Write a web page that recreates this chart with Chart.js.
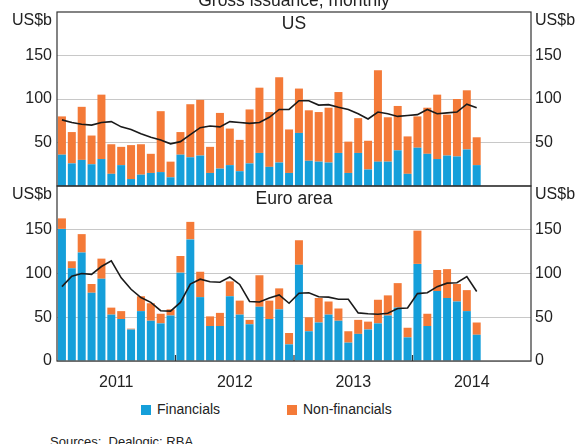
<!DOCTYPE html>
<html>
<head>
<meta charset="utf-8">
<script src="https://cdn.jsdelivr.net/npm/chart.js@4.4.0/dist/chart.umd.min.js"></script>
<style>
  body { margin: 0; background: #fff; font-family: Arial, "Liberation Sans", sans-serif; color: #222; }
  #wrap { position: relative; width: 580px; height: 444px; overflow: hidden; }
  .panel { position: absolute; left: 0; width: 580px; }
  #usBox { top: 0; height: 187px; }
  #euBox { top: 185px; height: 206px; }
  .key { position: absolute; top: 401px; font-size: 14px; line-height: 16px; white-space: nowrap; }
  .key span { display: inline-block; width: 10px; height: 10px; margin-right: 6px; vertical-align: -1px; }
  #sources { position: absolute; left: 50px; top: 434px; font-size: 13px; line-height: 16px; }
</style>
</head>
<body>
<div id="wrap">
  <div class="panel" id="usBox"><canvas id="usChart"></canvas></div>
  <div class="panel" id="euBox"><canvas id="euChart"></canvas></div>
  <div class="key" style="left:141px"><span style="background:#159fda"></span>Financials</div>
  <div class="key" style="left:287px"><span style="background:#f47a38"></span>Non-financials</div>
  <div id="sources">Sources:&nbsp;&nbsp;Dealogic; RBA</div>
</div>
<script>
const months = [
  'Jan 2011', 'Feb 2011', 'Mar 2011', 'Apr 2011', 'May 2011', 'Jun 2011', 'Jul 2011', 'Aug 2011', 'Sep 2011', 'Oct 2011', 'Nov 2011', 'Dec 2011',
  'Jan 2012', 'Feb 2012', 'Mar 2012', 'Apr 2012', 'May 2012', 'Jun 2012', 'Jul 2012', 'Aug 2012', 'Sep 2012', 'Oct 2012', 'Nov 2012', 'Dec 2012',
  'Jan 2013', 'Feb 2013', 'Mar 2013', 'Apr 2013', 'May 2013', 'Jun 2013', 'Jul 2013', 'Aug 2013', 'Sep 2013', 'Oct 2013', 'Nov 2013', 'Dec 2013',
  'Jan 2014', 'Feb 2014', 'Mar 2014', 'Apr 2014', 'May 2014', 'Jun 2014', 'Jul 2014'
];
const years = ['2011', '2012', '2013', '2014'];
const yTicks = [0, 50, 100, 150, 200];

// US$b, monthly
const usFinancials = [36, 26, 30, 25, 31, 14, 24, 8, 13, 15, 16, 10, 36, 33, 35, 15, 20, 24, 17, 26, 38, 22, 27, 15,
  61, 29, 28, 27, 38, 15, 38, 19, 28, 28, 41, 14, 44, 37, 31, 35, 34, 42, 24];
const usNonFinancials = [44, 36, 61, 33, 74, 34, 21, 39, 35, 22, 70, 18, 26, 61, 64, 30, 64, 42, 36, 62, 75, 63, 98, 50,
  51, 58, 57, 63, 70, 36, 40, 33, 105, 51, 51, 43, 36, 53, 74, 47, 66, 68, 32];
const usAverage = [76, 73, 71, 70, 73, 74, 68, 65, 60, 56, 53, 48.5, 51, 59, 67, 69, 68, 74, 73, 72, 73, 79, 88, 88,
  98, 98, 93, 93.5, 90.5, 88, 83, 77, 85, 83, 80, 81, 82, 88, 83, 84, 85, 94, 90];

const euFinancials = [151, 106, 124, 78, 94, 53, 48, 36, 57, 46, 43, 52, 101, 139, 73, 40, 40, 74, 53, 42, 62, 48, 59, 19,
  110, 34, 44, 53, 46, 21, 31, 36, 43, 52, 61, 27, 111, 40, 80, 72, 68, 57, 30];
const euNonFinancials = [12, 8, 21, 10, 23, 8, 9, 1, 17, 20, 11, 7, 19, 20, 29, 11, 15, 17, 16, 5, 36, 21, 24, 13,
  28, 16, 28, 15, 14, 13, 16, 9, 27, 23, 28, 11, 38, 14, 24, 33, 20, 24, 14];
const euAverage = [85, 97, 100, 99, 108, 114.5, 95, 82, 72.5, 67, 57.5, 57, 67, 88, 93.5, 90.5, 90, 96, 87.5, 68, 67.5, 72, 75.5, 66,
  77.5, 78, 73.5, 73, 70.5, 70.5, 55, 54, 53.5, 54.5, 60, 60.5, 77, 78, 85, 89, 89.5, 96.5, 79.5];

const fontFamily = 'Arial, "Liberation Sans", sans-serif';
Chart.defaults.font.family = fontFamily;
Chart.defaults.color = '#222';

const blue = '#159fda';
const orange = '#f47a38';

const points = arr => arr.map((v, i) => ({ x: i, y: v }));

// frame, inward year ticks, unit labels and panel titles
const panelFrame = {
  id: 'panelFrame',
  afterDatasetsDraw(chart, args, opts) {
    const { ctx, chartArea: a, scales } = chart;
    ctx.save();
    ctx.strokeStyle = '#333';
    ctx.lineWidth = 1.2;
    ctx.strokeRect(a.left, a.top, a.right - a.left, a.bottom - a.top);
    if (opts.yearTicks) {
      years.forEach((y, i) => {
        if (i === 0) return;
        const x = scales.x.getPixelForValue(i * 12 - 0.5);
        ctx.beginPath();
        ctx.moveTo(x, a.bottom);
        ctx.lineTo(x, a.bottom - 6);
        ctx.stroke();
      });
    }
    ctx.fillStyle = '#222';
    ctx.font = '16px ' + fontFamily;
    ctx.textBaseline = 'middle';
    ctx.textAlign = 'right';
    ctx.fillText('US$b', a.left - 5, a.top + 9);
    ctx.textAlign = 'left';
    ctx.fillText('US$b', a.right + 4, a.top + 9);
    ctx.font = '17.5px ' + fontFamily;
    ctx.textAlign = 'center';
    ctx.textBaseline = 'alphabetic';
    const cx = (a.left + a.right) / 2;
    ctx.fillText(opts.title, cx, a.top + opts.titleOffset);
    if (opts.heading) ctx.fillText(opts.heading, cx, a.top - 6.5);
    ctx.restore();
  }
};

function makeChart(id, fin, nonFin, avg, cfg) {
  const ctx = document.getElementById(id).getContext('2d');
  const tickLabel = v => (v === 200 || (v === 0 && !cfg.showZero)) ? null : v;
  const noPad = s => { s.paddingTop = 0; s.paddingBottom = 0; };
  return new Chart(ctx, {
    type: 'bar',
    data: {
      datasets: [
        { type: 'line', label: 'Rolling six-month average', data: points(avg), borderColor: '#1a1a1a', borderWidth: 1.6,
          pointRadius: 0, tension: 0, stack: 'avg', order: 0 },
        { label: 'Financials', data: points(fin), backgroundColor: blue, stack: 'bars', order: 1,
          barPercentage: 0.9, categoryPercentage: 0.9 },
        { label: 'Non-financials', data: points(nonFin), backgroundColor: orange, stack: 'bars', order: 1,
          barPercentage: 0.9, categoryPercentage: 0.9 }
      ]
    },
    options: {
      responsive: true,
      maintainAspectRatio: false,
      animation: false,
      layout: { padding: cfg.padding },
      plugins: {
        legend: { display: false },
        tooltip: { enabled: false },
        panelFrame: cfg.frame
      },
      scales: {
        x: {
          type: 'linear',
          min: -0.5,
          max: 47.5,
          offset: false,
          stacked: true,
          display: cfg.showX,
          grid: { display: false, drawTicks: false, offset: false },
          border: { display: false },
          afterBuildTicks: s => { s.ticks = years.map((y, i) => ({ value: i * 12 + 5.5 })); },
          ticks: {
            autoSkip: false,
            maxRotation: 0,
            padding: 12,
            font: { size: 16 },
            callback: v => years[Math.round((v - 5.5) / 12)]
          },
          afterFit: s => { s.height = cfg.showX ? 30 : 0; s.paddingLeft = 0; s.paddingRight = 0; }
        },
        y: {
          position: 'left',
          min: 0,
          max: 200,
          stacked: true,
          grid: { color: '#c8c8c8', drawTicks: false },
          border: { display: false },
          afterBuildTicks: s => { s.ticks = yTicks.map(v => ({ value: v })); },
          ticks: { padding: 5, font: { size: 16 }, callback: tickLabel },
          afterFit: s => { s.width = 57; noPad(s); }
        },
        y2: {
          position: 'right',
          min: 0,
          max: 200,
          grid: { display: false, drawTicks: false },
          border: { display: false },
          afterBuildTicks: s => { s.ticks = yTicks.map(v => ({ value: v })); },
          ticks: { padding: 4, font: { size: 16 }, callback: tickLabel },
          afterFit: s => { s.width = 49; noPad(s); }
        }
      }
    },
    plugins: [panelFrame]
  });
}

makeChart('usChart', usFinancials, usNonFinancials, usAverage, {
  showX: false,
  showZero: false,
  padding: { top: 12, bottom: 1, left: 0, right: 0 },
  frame: { title: 'US', titleOffset: 16.5, heading: 'Gross issuance, monthly', yearTicks: false }
});

makeChart('euChart', euFinancials, euNonFinancials, euAverage, {
  showX: true,
  showZero: true,
  padding: { top: 1, bottom: 0, left: 0, right: 0 },
  frame: { title: 'Euro area', titleOffset: 18, yearTicks: true }
});
</script>
</body>
</html>
